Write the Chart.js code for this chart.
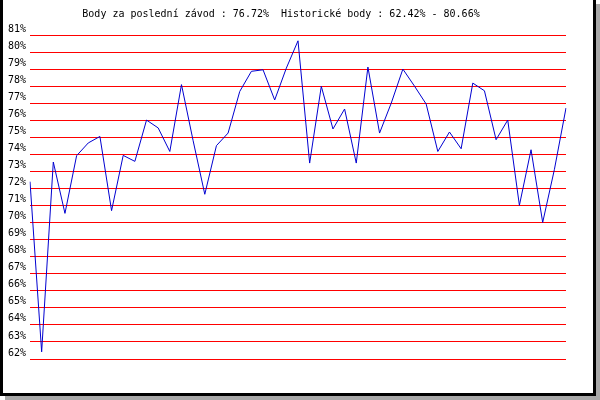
<!DOCTYPE html>
<html>
<head>
<meta charset="utf-8">
<script src="https://cdn.jsdelivr.net/npm/chart.js@4/dist/chart.umd.min.js"></script>
<style>
html,body{margin:0;padding:0;background:#fff;}
canvas{display:block;}
</style>
</head>
<body>
<canvas id="c" width="600" height="400"></canvas>
<script>
const titleText = "Body za poslední závod : 76.72%  Historické body : 62.42% - 80.66%";
const races = ["1","2","3","4","5","6","7","8","9","10","11","12","13","14","15","16","17","18","19","20","21","22","23","24","25","26","27","28","29","30","31","32","33","34","35","36","37","38","39","40","41","42","43","44","45","46","47"];
const points = [72.4,62.42,73.55,70.54,73.92,74.67,75.05,70.7,73.94,73.59,76.01,75.55,74.17,78.09,74.8,71.66,74.51,75.25,77.69,78.87,78.96,77.19,79.06,80.66,73.49,77.99,75.49,76.66,73.49,79.12,75.25,77.0,79.0,78.0,76.95,74.17,75.31,74.33,78.18,77.73,74.86,76.01,71.01,74.27,70.01,73.1,76.72];
const yMin = 62;
const yMax = 81;

const framePlugin = {
  id: 'frame',
  beforeDraw(chart) {
    const ctx = chart.ctx;
    ctx.save();
    ctx.fillStyle = '#ffffff';
    ctx.fillRect(0, 0, 600, 400);
    ctx.fillStyle = '#a8a8a8';
    ctx.fillRect(596, 4, 4, 396);
    ctx.fillRect(5, 396, 595, 4);
    ctx.fillStyle = '#000000';
    ctx.fillRect(0, 0, 3, 396);
    ctx.fillRect(593, 0, 3, 396);
    ctx.fillRect(0, 393, 596, 3);
    ctx.restore();
  },
  afterDraw(chart) {
    const ctx = chart.ctx;
    ctx.save();
    ctx.font = '10px "DejaVu Sans Mono"';
    ctx.fillStyle = '#000';
    ctx.textAlign = 'center';
    ctx.textBaseline = 'middle';
    ctx.fillText(titleText, 281, 14);
    ctx.restore();
  }
};

new Chart(document.getElementById('c'), {
  type: 'line',
  data: {
    labels: races,
    datasets: [{
      data: points,
      borderColor: '#0000d0',
      borderWidth: 1,
      pointRadius: 0,
      tension: 0,
      fill: false
    }]
  },
  options: {
    responsive: false,
    animation: false,
    devicePixelRatio: 1,
    layout: { padding: { top: 35, bottom: 41, left: 0, right: 34 } },
    plugins: { legend: { display: false }, tooltip: { enabled: false }, title: { display: false } },
    scales: {
      x: { display: false, offset: false },
      y: {
        min: yMin, max: yMax,
        afterFit(scale) { scale.width = 30; },
        border: { display: false },
        grid: { color: '#ff0000', lineWidth: 1, drawTicks: false },
        ticks: {
          stepSize: 1,
          padding: 4,
          labelOffset: -6,
          color: '#000',
          font: { family: 'DejaVu Sans Mono', size: 10 },
          callback: v => v + '%'
        }
      }
    }
  },
  plugins: [framePlugin]
});
</script>
</body>
</html>
